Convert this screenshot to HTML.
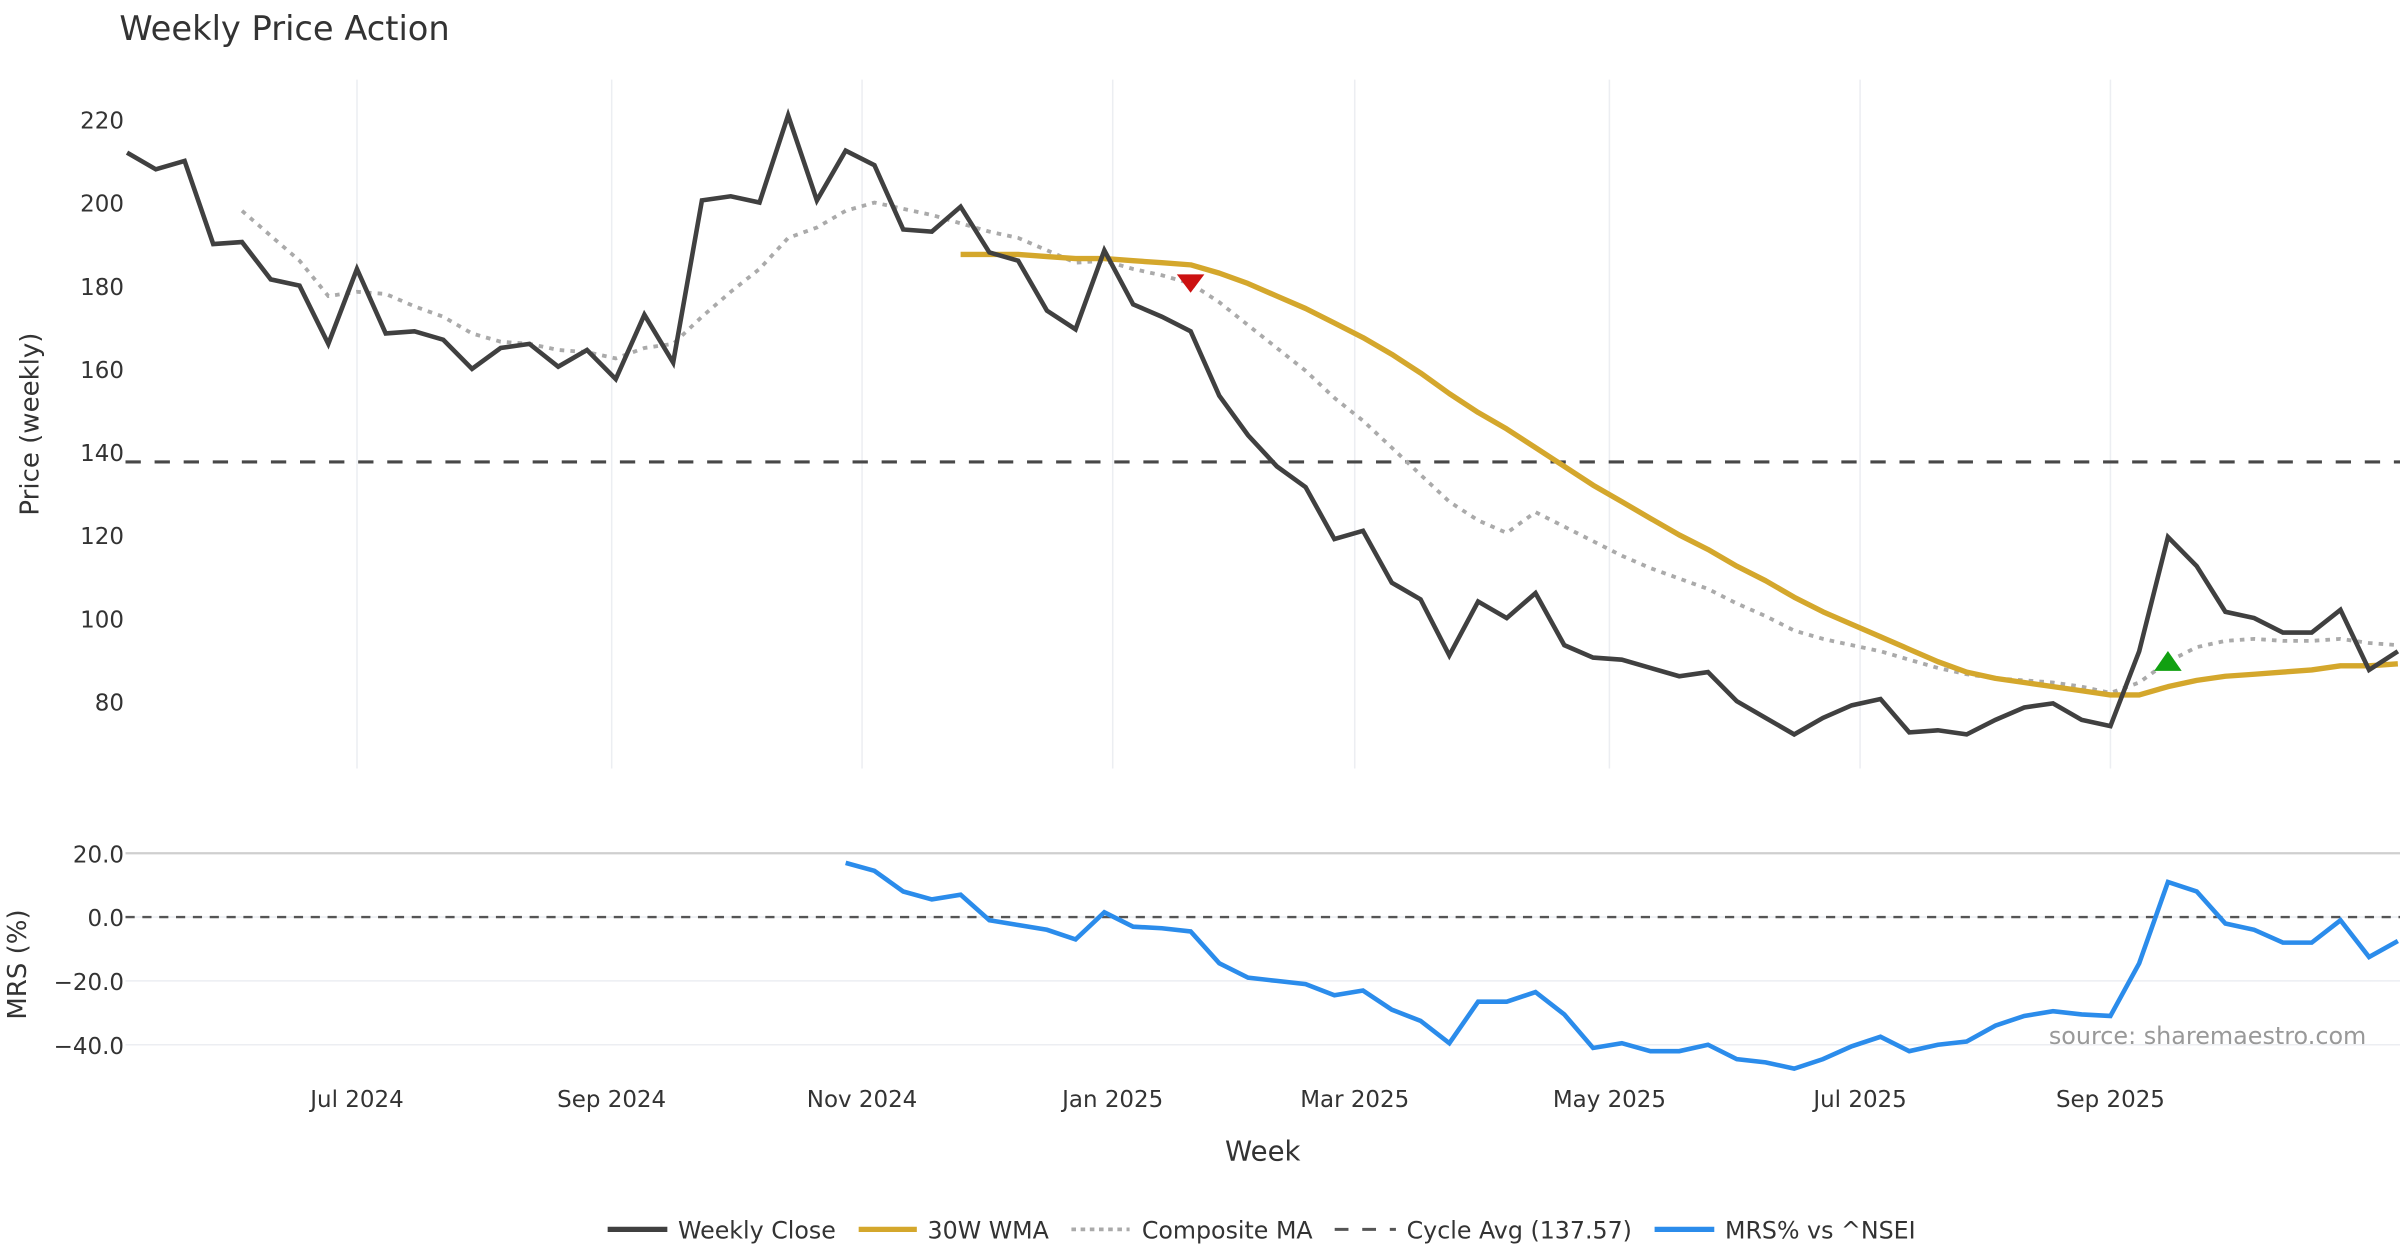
<!DOCTYPE html>
<html><head><meta charset="utf-8"><style>
html,body{margin:0;padding:0;background:#fff}
svg{display:block;font-family:"DejaVu Sans","Liberation Sans",sans-serif}
</style></head><body>
<svg id="chart" width="2400" height="1260" viewBox="0 0 1568 823" preserveAspectRatio="none" xmlns="http://www.w3.org/2000/svg">
<text x="78" y="26" font-size="22" fill="#333">Weekly Price Action</text>
<g id="grid"></g>
<g id="axes"></g>
<g id="series"></g>
<text transform="translate(25,277) rotate(-90)" text-anchor="middle" font-size="17" fill="#333">Price (weekly)</text>
<text transform="translate(17,630) rotate(-90)" text-anchor="middle" font-size="17" fill="#333">MRS (%)</text>
<text x="825" y="758" text-anchor="middle" font-size="18" fill="#333">Week</text>
<text x="1546" y="682" text-anchor="end" font-size="15.6" fill="#999">source: sharemaestro.com</text>
<g font-size="15.5" fill="#333">
 <line x1="397" y1="803" x2="436" y2="803" stroke="#404040" stroke-width="3.5"/><text x="443" y="809">Weekly Close</text>
 <line x1="561" y1="803" x2="599" y2="803" stroke="#d4a72c" stroke-width="3.5"/><text x="606" y="809">30W WMA</text>
 <line x1="700" y1="803" x2="738" y2="803" stroke="#aaa" stroke-width="2.5" stroke-dasharray="3,3"/><text x="746" y="809">Composite MA</text>
 <line x1="872" y1="803" x2="912" y2="803" stroke="#555" stroke-width="2" stroke-dasharray="9,9"/><text x="919" y="809">Cycle Avg (137.57)</text>
 <line x1="1081" y1="803" x2="1120" y2="803" stroke="#2b8ceb" stroke-width="3.5"/><text x="1127" y="809">MRS% vs ^NSEI</text>
</g>
</svg>
<script>
const closeVals=[212,208,210,190,190.5,181.5,180,166,184,168.5,169,167,160,165,166,160.5,164.5,157.5,173,161.5,200.5,201.5,200,221,200.5,212.5,209,193.5,193,199,188,186,174,169.5,188.5,175.5,172.5,169,153.5,144,136.5,131.5,119,121,108.5,104.5,91,104,100,106,93.5,90.5,90,88,86,87,80,76,72,76,79,80.5,72.5,73,72,75.5,78.5,79.5,75.5,74,92,119.5,112.5,101.5,100,96.5,96.5,102,87.5,92];
const compositeStart=4;
const compositeVals=[198,192,186,177.5,178.5,178,175,172.5,168.5,166.5,166,164.5,164,162.5,165,166,172.5,178.5,184,191.5,194,198,200,198.5,197,195,193,191.5,188.5,185.5,186,184,182.5,180.5,176,170.5,165,159.5,153,147.5,141,134.5,128,123.5,120.5,125.5,122,118.5,115,112,109.5,107,103.5,100.5,97,95,93.5,92,90,88,86.5,85.5,85,84.5,83.5,82,84.5,89.5,93,94.5,95,94.5,94.5,95,94,93.5];
const wmaStart=29;
const wmaVals=[187.5,187.5,187.5,187,186.5,186.5,186,185.5,185,183,180.5,177.5,174.5,171,167.5,163.5,159,154,149.5,145.5,141,136.5,132,128,124,120,116.5,112.5,109,105,101.5,98.5,95.5,92.5,89.5,87,85.5,84.5,83.5,82.5,81.5,81.5,83.5,85,86,86.5,87,87.5,88.5,88.5,89];
const mrsStart=25;
const mrsVals=[17,14.5,8,5.5,7,-1,-2.5,-4,-7,1.5,-3,-3.5,-4.5,-14.5,-19,-20,-21,-24.5,-23,-29,-32.5,-39.5,-26.5,-26.5,-23.5,-30.5,-41,-39.5,-42,-42,-40,-44.5,-45.5,-47.5,-44.5,-40.5,-37.5,-42,-40,-39,-34,-31,-29.5,-30.5,-31,-14.5,11,8,-2,-4,-8,-8,-1,-12.5,-7.5];
const cycleAvg=137.57;
const sellSignal={i:37,v:180.5};
const buySignal={i:71,v:89.5};
const priceTicks=[80,100,120,140,160,180,200,220];
const mrsTicks=[20,0,-20,-40];
const xTickLabels=["Jul 2024","Sep 2024","Nov 2024","Jan 2025","Mar 2025","May 2025","Jul 2025","Sep 2025"];
const xTickWeeks=[8,16.86,25.57,34.29,42.71,51.57,60.29,69];

const NS="http://www.w3.org/2000/svg";
const xS=i=>83+i*18.78;
const yP=v=>458-(v-80)*2.7143;
const yM=v=>599-v*2.085;
function mk(tag,attrs,parent){const e=document.createElementNS(NS,tag);for(const k in attrs)e.setAttribute(k,attrs[k]);parent.appendChild(e);return e;}
const grid=document.getElementById('grid'),axes=document.getElementById('axes'),ser=document.getElementById('series');

xTickWeeks.forEach((w,k)=>{
  const x=xS(w);
  const g=mk('line',{x1:x,x2:x,y1:52,y2:502,stroke:'#eceef2','stroke-width':1},grid);
  
  
  const t=mk('text',{x:x,y:723,'text-anchor':'middle','font-size':15,fill:'#333'},axes);
  t.textContent=xTickLabels[k];
  
  
});
priceTicks.forEach(v=>{
  const t=mk('text',{x:81,y:yP(v)+6,'text-anchor':'end','font-size':15,fill:'#333'},axes);
  t.textContent=v;
  
  
});
mrsTicks.forEach(v=>{
  const l=mk('line',{x1:82,x2:1568,y1:yM(v),y2:yM(v),stroke:v===20?'#cfcfcf':'#eceef2','stroke-width':v===20?1.5:1},grid);
  
  
  const t=mk('text',{x:81,y:yM(v)+6,'text-anchor':'end','font-size':15,fill:'#333'},axes);
  t.textContent=v.toFixed(1).replace('-','\u2212');
  
  
});
const z=mk('line',{x1:82,x2:1568,y1:yM(0),y2:yM(0),stroke:'#555','stroke-width':1.5,'stroke-dasharray':'6,5'},ser);


const c=mk('line',{x1:82,x2:1568,y1:yP(cycleAvg),y2:yP(cycleAvg),stroke:'#484848','stroke-width':2,'stroke-dasharray':'10,9'},ser);



function pts(arr,start,yf){return arr.map((v,k)=>xS(start+k).toFixed(1)+','+yf(v).toFixed(1)).join(' ');}
const cm=mk('polyline',{points:pts(compositeVals,compositeStart,yP),fill:'none',stroke:'#aaa','stroke-width':2.5,'stroke-dasharray':'3,4'},ser);


const wl=mk('polyline',{points:pts(wmaVals,wmaStart,yP),fill:'none',stroke:'#d4a72c','stroke-width':3.5,'stroke-linejoin':'round'},ser);


const cl=mk('polyline',{points:pts(closeVals,0,yP),fill:'none',stroke:'#404040','stroke-width':3,'stroke-linejoin':'miter'},ser);


const ml=mk('polyline',{points:pts(mrsVals,mrsStart,yM),fill:'none',stroke:'#2b8ceb','stroke-width':3},ser);


{const x=xS(sellSignal.i),y=yP(sellSignal.v);
 const s=mk('polygon',{points:`${x-9},${y-6} ${x+9},${y-6} ${x},${y+6}`,fill:'#cc1111'},ser);
 
 }
{const x=xS(buySignal.i),y=yP(buySignal.v);
 const b=mk('polygon',{points:`${x-9},${y+6} ${x+9},${y+6} ${x},${y-7}`,fill:'#11a011'},ser);
 
 }
</script>
</body></html>
